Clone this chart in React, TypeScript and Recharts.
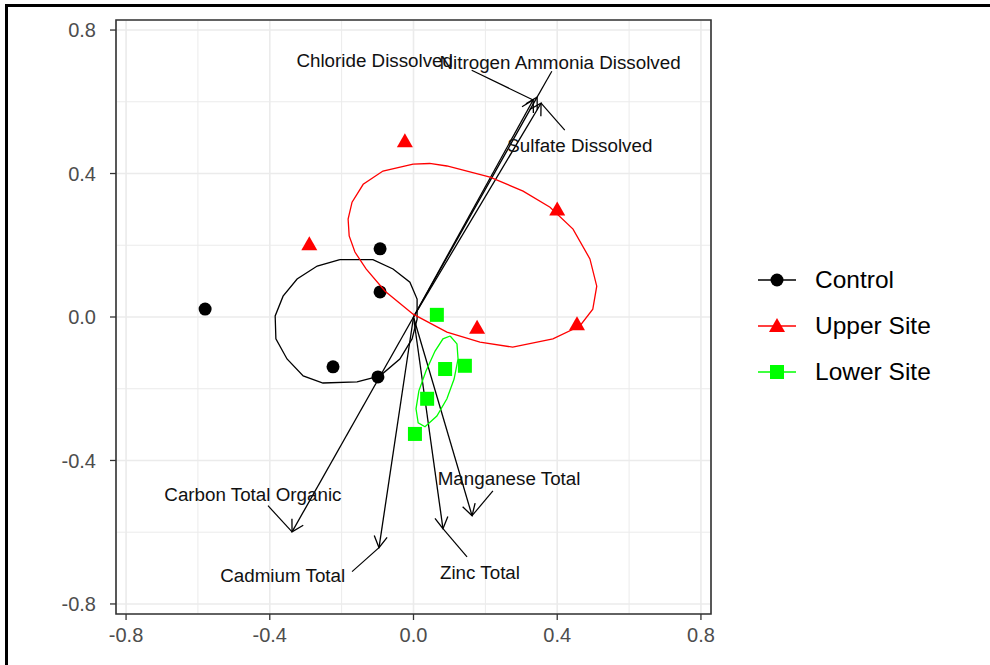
import React from 'react';
import {
  CartesianGrid,
  ReferenceArea,
  ReferenceLine,
  Scatter,
  ScatterChart,
  XAxis,
  YAxis,
} from 'recharts';

// site scores
const controlX = [-0.58, -0.093, -0.093, -0.224, -0.099];
const controlY = [0.022, 0.19, 0.07, -0.139, -0.167];
const upperX = [-0.024, -0.29, 0.40, 0.455, 0.177];
const upperY = [0.49, 0.203, 0.30, -0.02, -0.03];
const lowerX = [0.065, 0.088, 0.143, 0.038, 0.004];
const lowerY = [0.006, -0.145, -0.136, -0.228, -0.326];

// group ellipses, traced outline
const controlEllX = [-0.205, -0.113, -0.057, -0.010, 0.010, 0.010, -0.004, -0.038, -0.093, -0.157, -0.252, -0.307, -0.352, -0.383, -0.385, -0.363, -0.324, -0.268];
const controlEllY = [0.160, 0.160, 0.134, 0.097, 0.050, -0.006, -0.061, -0.117, -0.164, -0.181, -0.184, -0.164, -0.117, -0.061, 0.003, 0.058, 0.106, 0.142];
const upperEllX = [-0.001, 0.045, 0.093, 0.213, 0.305, 0.380, 0.444, 0.491, 0.510, 0.499, 0.463, 0.388, 0.276, 0.185, 0.093, -0.001, -0.079, -0.132, -0.163, -0.179, -0.182, -0.171, -0.140, -0.085];
const upperEllY = [0.426, 0.428, 0.421, 0.390, 0.351, 0.306, 0.245, 0.162, 0.086, 0.022, -0.025, -0.061, -0.084, -0.070, -0.042, 0.008, 0.072, 0.134, 0.181, 0.226, 0.273, 0.320, 0.370, 0.407];
const lowerEllX = [0.102, 0.121, 0.124, 0.113, 0.093, 0.065, 0.032, 0.013, 0.007, 0.015, 0.035, 0.060, 0.082];
const lowerEllY = [-0.053, -0.075, -0.117, -0.173, -0.228, -0.276, -0.306, -0.295, -0.256, -0.206, -0.150, -0.095, -0.061];

// variable loadings (arrow tips)
const varNames = ['Chloride Dissolved', 'Nitrogen Ammonia Dissolved', 'Sulfate Dissolved', 'Carbon Total Organic', 'Cadmium Total', 'Zinc Total', 'Manganese Total'];
const loadX = [0.333, 0.344, 0.355, -0.338, -0.096, 0.082, 0.163];
const loadY = [0.605, 0.613, 0.596, -0.599, -0.643, -0.590, -0.554];

// repelled label placement
const labelX = [-0.108, 0.408, 0.463, -0.447, -0.364, 0.185, 0.266];
const labelY = [0.716, 0.710, 0.479, -0.496, -0.721, -0.713, -0.451];
const segX = [0.162, 0.385, 0.421, -0.405, -0.171, 0.149, 0.221];
const segY = [0.688, 0.685, 0.521, -0.526, -0.710, -0.669, -0.485];

const ticks = [-0.8, -0.4, 0, 0.4, 0.8];
const minorTicks = [-0.6, -0.2, 0.2, 0.6];
const LIM = 0.828;

const FONT = '"Liberation Sans", Arial, sans-serif';

const pts = (xs: number[], ys: number[]) => xs.map((x, i) => ({ x, y: ys[i] }));
const closed = (xs: number[], ys: number[]) => {
  const p = pts(xs, ys);
  return [...p, p[0]];
};

const Empty = () => <g />;

const Dot = (p: any) => <circle cx={p.cx} cy={p.cy} r={6.5} fill="#000" />;
const Tri = (p: any) => (
  <polygon
    points={`${p.cx},${p.cy - 8} ${p.cx - 8},${p.cy + 6} ${p.cx + 8},${p.cy + 6}`}
    fill="#ff0000"
  />
);
const Sq = (p: any) => <rect x={p.cx - 7} y={p.cy - 7} width={14} height={14} fill="#00ff00" />;

const Label = (p: any) => (
  <text
    x={p.cx}
    y={p.cy}
    textAnchor="middle"
    dominantBaseline="central"
    fontFamily={FONT}
    fontSize={18.8}
    fill="#111"
  >
    {p.payload.name}
  </text>
);

const Arrow = (p: any) => {
  const { x1, y1, x2, y2 } = p;
  const ang = Math.atan2(y2 - y1, x2 - x1);
  const L = 13;
  const a = Math.PI / 6;
  const ax = x2 - L * Math.cos(ang - a);
  const ay = y2 - L * Math.sin(ang - a);
  const bx = x2 - L * Math.cos(ang + a);
  const by = y2 - L * Math.sin(ang + a);
  return (
    <g>
      <line x1={x1} y1={y1} x2={x2} y2={y2} stroke="#000" strokeWidth={1.3} />
      <polyline points={`${ax},${ay} ${x2},${y2} ${bx},${by}`} fill="none" stroke="#000" strokeWidth={1.3} />
    </g>
  );
};

const legendItems = [
  { name: 'Control', color: '#000000', kind: 'circle' },
  { name: 'Upper Site', color: '#ff0000', kind: 'triangle' },
  { name: 'Lower Site', color: '#00ff00', kind: 'square' },
];

const LegendKey = ({ color, kind }: { color: string; kind: string }) => (
  <svg width={40} height={24} style={{ display: 'block' }}>
    <line x1={1} y1={12} x2={39} y2={12} stroke={color} strokeWidth={1.5} />
    {kind === 'circle' && <circle cx={20} cy={12} r={6.5} fill={color} />}
    {kind === 'triangle' && <polygon points="20,4 12,18 28,18" fill={color} />}
    {kind === 'square' && <rect x={13} y={5} width={14} height={14} fill={color} />}
  </svg>
);

export default function App() {
  const labels = labelX.map((x, i) => ({ x, y: labelY[i], name: varNames[i] }));
  const axisTick = { fill: '#4d4d4d', fontSize: 20, fontFamily: FONT };

  return (
    <div style={{ position: 'absolute', left: 0, top: 0, width: 990, height: 665, overflow: 'hidden', background: '#fff' }}>
      <div style={{ position: 'absolute', left: 5, top: 4, width: 1100, height: 800, borderTop: '3px solid #000', borderLeft: '3px solid #000' }} />
      <div style={{ position: 'absolute', left: 0, top: 0 }}>
        <ScatterChart width={990} height={665} margin={{ top: 20, right: 279, bottom: 0, left: 0 }}>
          <CartesianGrid stroke="#ebebeb" strokeWidth={1} verticalValues={minorTicks} horizontalValues={minorTicks} />
          <CartesianGrid stroke="#ebebeb" strokeWidth={1.6} />
          <XAxis
            type="number"
            dataKey="x"
            domain={[-LIM, LIM]}
            ticks={ticks}
            allowDataOverflow
            tickFormatter={(v: number) => v.toFixed(1)}
            tick={axisTick}
            axisLine={false}
            tickLine={{ stroke: '#333', strokeWidth: 1.3 }}
            tickSize={6}
            tickMargin={8}
            height={51}
          />
          <YAxis
            type="number"
            dataKey="y"
            domain={[-LIM, LIM]}
            ticks={ticks}
            allowDataOverflow
            tickFormatter={(v: number) => v.toFixed(1)}
            tick={axisTick}
            axisLine={false}
            tickLine={{ stroke: '#333', strokeWidth: 1.3 }}
            tickSize={6}
            tickMargin={14}
            width={116}
          />
          <Scatter data={pts(controlX, controlY)} shape={Dot} isAnimationActive={false} />
          <Scatter data={pts(upperX, upperY)} shape={Tri} isAnimationActive={false} />
          <Scatter data={pts(lowerX, lowerY)} shape={Sq} isAnimationActive={false} />
          <Scatter data={closed(controlEllX, controlEllY)} shape={Empty} line={{ stroke: '#000', strokeWidth: 1.3 }} isAnimationActive={false} />
          <Scatter data={closed(upperEllX, upperEllY)} shape={Empty} line={{ stroke: '#ff0000', strokeWidth: 1.3 }} isAnimationActive={false} />
          <Scatter data={closed(lowerEllX, lowerEllY)} shape={Empty} line={{ stroke: '#00ff00', strokeWidth: 1.3 }} isAnimationActive={false} />
          {loadX.map((x, i) => (
            <ReferenceLine key={'a' + i} segment={[{ x: 0, y: 0 }, { x, y: loadY[i] }]} shape={Arrow} />
          ))}
          {segX.map((x, i) => (
            <ReferenceLine key={'s' + i} segment={[{ x, y: segY[i] }, { x: loadX[i], y: loadY[i] }]} stroke="#000" strokeWidth={1.2} />
          ))}
          <Scatter data={labels} shape={Label} isAnimationActive={false} />
          <ReferenceArea x1={-LIM} x2={LIM} y1={-LIM} y2={LIM} fill="none" stroke="#333" strokeWidth={1.6} />
        </ScatterChart>
      </div>
      <div style={{ position: 'absolute', left: 757, top: 257, fontFamily: FONT, fontSize: 24.5, color: '#000' }}>
        {legendItems.map((it) => (
          <div key={it.name} style={{ display: 'flex', alignItems: 'center', height: 46 }}>
            <LegendKey color={it.color} kind={it.kind} />
            <span style={{ marginLeft: 18 }}>{it.name}</span>
          </div>
        ))}
      </div>
    </div>
  );
}
